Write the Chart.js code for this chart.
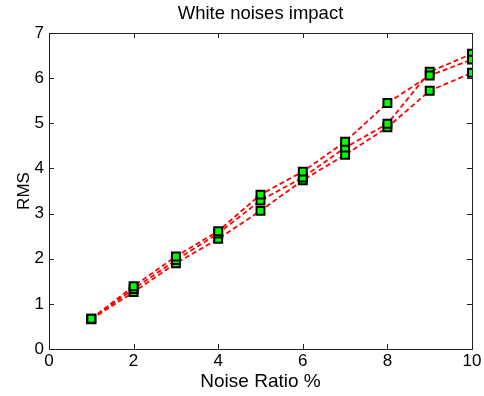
<!DOCTYPE html>
<html>
<head>
<meta charset="utf-8">
<script src="https://cdn.jsdelivr.net/npm/chart.js@4/dist/chart.umd.min.js"></script>
<style>
html,body{margin:0;padding:0;background:#fff;}
#wrap{width:484px;height:396px;}
</style>
</head>
<body>
<div id="wrap"><canvas id="c" width="484" height="396"></canvas></div>
<script>
const noiseRatio = [1, 2, 3, 4, 5, 6, 7, 8, 9, 10];
const rmsRun1 = [0.67, 1.39, 2.05, 2.61, 3.42, 3.93, 4.59, 5.45, 6.06, 6.41];
const rmsRun2 = [0.67, 1.33, 1.97, 2.56, 3.29, 3.80, 4.46, 4.99, 6.14, 6.54];
const rmsRun3 = [0.66, 1.26, 1.90, 2.44, 3.06, 3.74, 4.30, 4.91, 5.72, 6.12];
const xTicks = [0, 2, 4, 6, 8, 10];
const yTicks = [0, 1, 2, 3, 4, 5, 6, 7];
const chartTitle = 'White noises impact';

const FONT = "'Liberation Sans', Arial, sans-serif";

function mk(vals) {
  return {
    data: noiseRatio.map((x, i) => ({x: x, y: vals[i]})),
    borderColor: '#ff0000',
    borderWidth: 1.8,
    borderDash: [5, 3],
    pointStyle: 'rect',
    pointRadius: 5.6,
    pointHoverRadius: 5.6,
    pointBackgroundColor: '#00ff00',
    pointBorderColor: '#000000',
    pointBorderWidth: 2,
    fill: false,
    tension: 0
  };
}

const boxPlugin = {
  id: 'box',
  afterDraw(chart) {
    const {ctx, chartArea: a, scales} = chart;
    ctx.save();
    ctx.strokeStyle = '#222';
    ctx.lineWidth = 1;
    ctx.strokeRect(Math.round(a.left) + 0.5, Math.round(a.top) + 0.5,
                   Math.round(a.right - a.left), Math.round(a.bottom - a.top));
    const L = 5;
    ctx.beginPath();
    xTicks.forEach(v => {
      const px = Math.round(scales.x.getPixelForValue(v)) + 0.5;
      ctx.moveTo(px, a.bottom); ctx.lineTo(px, a.bottom - L);
      ctx.moveTo(px, a.top); ctx.lineTo(px, a.top + L);
    });
    yTicks.forEach(v => {
      const py = Math.round(scales.y.getPixelForValue(v)) + 0.5;
      ctx.moveTo(a.left, py); ctx.lineTo(a.left + L, py);
      ctx.moveTo(a.right, py); ctx.lineTo(a.right - L, py);
    });
    ctx.stroke();
    // title centred over the axes box
    ctx.fillStyle = '#000';
    ctx.font = "18.5px " + FONT;
    ctx.textAlign = 'center';
    ctx.textBaseline = 'middle';
    ctx.fillText(chartTitle, (a.left + a.right) / 2, 14);
    ctx.restore();
  }
};

new Chart(document.getElementById('c'), {
  type: 'line',
  data: { datasets: [mk(rmsRun1), mk(rmsRun2), mk(rmsRun3)] },
  options: {
    responsive: false,
    animation: false,
    layout: { padding: { left: 0, right: 12, top: 33, bottom: 0 } },
    plugins: {
      legend: { display: false },
      tooltip: { enabled: false },
      title: { display: false }
    },
    scales: {
      x: {
        type: 'linear',
        min: 0, max: 10,
        afterBuildTicks(s) { s.ticks = xTicks.map(v => ({value: v})); },
        afterFit(s) { s.height = 47; },
        grid: { display: false, drawTicks: false },
        border: { display: false },
        ticks: { color: '#000', padding: 2, maxRotation: 0, autoSkip: false,
                 font: { family: FONT, size: 17 } },
        title: { display: true, text: 'Noise Ratio %', color: '#000',
                 font: { family: FONT, size: 19, lineHeight: 1.2 },
                 padding: { top: 0, bottom: 3 } }
      },
      y: {
        type: 'linear',
        min: 0, max: 7,
        afterBuildTicks(s) { s.ticks = yTicks.map(v => ({value: v})); },
        afterFit(s) { s.width = 49; },
        grid: { display: false, drawTicks: false },
        border: { display: false },
        ticks: { color: '#000', padding: 5, autoSkip: false,
                 font: { family: FONT, size: 17 } },
        title: { display: true, text: 'RMS', color: '#000',
                 font: { family: FONT, size: 17, lineHeight: 1.2 },
                 padding: { top: 14, bottom: 0 } }
      }
    }
  },
  plugins: [boxPlugin]
});
</script>
</body>
</html>
